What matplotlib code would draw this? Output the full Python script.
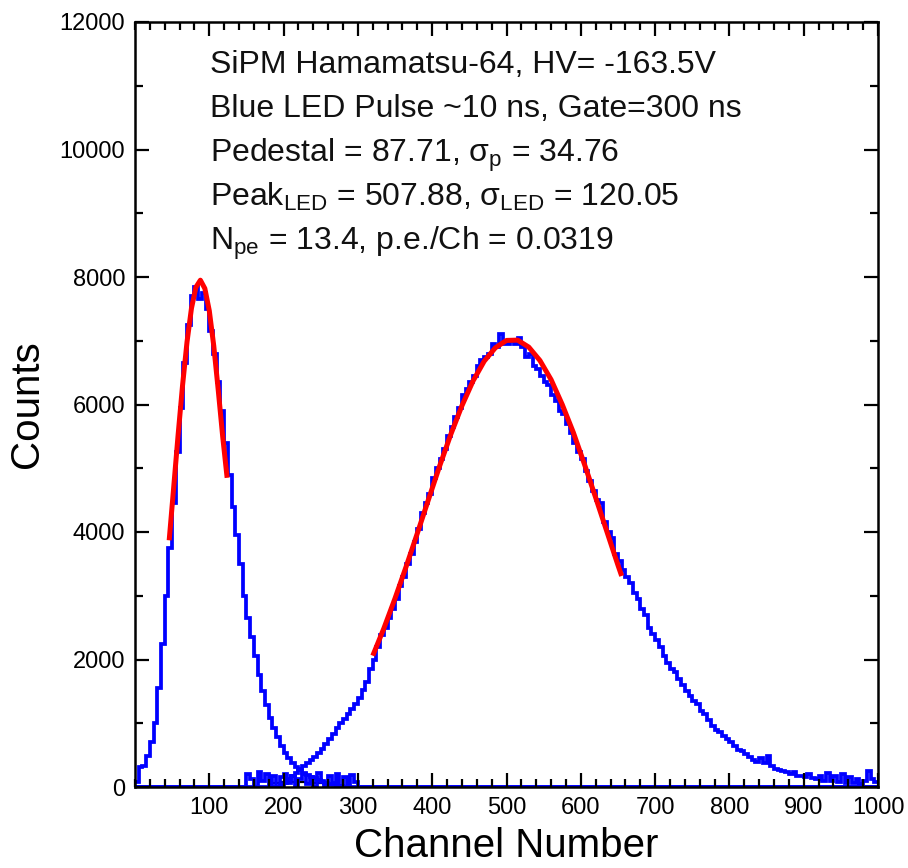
import numpy as np
import matplotlib
matplotlib.use("Agg")
import matplotlib.pyplot as plt
from matplotlib.ticker import MultipleLocator, FixedLocator

plt.rcParams['font.family'] = ['Liberation Sans', 'DejaVu Sans']
plt.rcParams['mathtext.fontset'] = 'custom'
plt.rcParams['mathtext.rm'] = 'Liberation Sans'
plt.rcParams['mathtext.it'] = 'Liberation Sans:italic'
plt.rcParams['mathtext.bf'] = 'Liberation Sans:bold'

# ---------------- data ----------------
bin_width = 5
x_max = 1000

# pedestal histogram, bins starting at channel 0
ped_start = 0
ped_counts = [80, 320, 330, 480, 700, 1000, 1550, 2250, 3000, 3750,
              4450, 5250, 5950, 6650, 7250, 7700, 7850, 7650, 7750, 7500,
              7150, 6800, 6350, 5900, 5400, 4900, 4400, 3950, 3500, 3000,
              2650, 2350, 2050, 1750, 1500, 1280, 1080, 920, 780, 650,
              540, 450, 380, 320, 260, 220, 185, 160, 135, 110,
              85, 65, 45, 30, 18, 8]

# sparse low-count entries between channels 150 and 300
sparse_start = 150
sparse_counts = [200, 120, 0, 230, 90, 200, 30, 180, 0, 150,
                 210, 60, 180, 0, 120, 200, 40, 160, 0, 220,
                 100, 0, 180, 60, 200, 20, 150, 0, 190, 80, 0]

# LED histogram, bins starting at channel 195
led_start = 195
led_counts = [30, 70, 120, 170, 220, 280, 330, 380, 420, 470,
              540, 600, 680, 760, 830, 920, 1000, 1060, 1150, 1220,
              1300, 1400, 1520, 1650, 1850, 2000, 2200, 2380, 2500, 2650,
              2800, 2950, 3150, 3300, 3500, 3650, 3850, 4050, 4300, 4450,
              4600, 4850, 5000, 5150, 5300, 5500, 5650, 5800, 5950, 6150,
              6250, 6350, 6450, 6600, 6700, 6750, 6800, 6950, 6900, 7100,
              6950, 6950, 7000, 6950, 7050, 6900, 6750, 6800, 6600, 6550,
              6450, 6350, 6300, 6150, 6050, 5900, 5850, 5700, 5550, 5400,
              5250, 5150, 4950, 4800, 4650, 4500, 4450, 4150, 4000, 3900,
              3650, 3550, 3400, 3300, 3200, 3050, 2950, 2800, 2700, 2500,
              2400, 2300, 2200, 2050, 1950, 1850, 1800, 1700, 1600, 1500,
              1430, 1350, 1300, 1200, 1150, 1050, 960, 900, 870, 800,
              750, 700, 650, 580, 560, 520, 470, 430, 400, 450,
              380, 480, 330, 290, 270, 250, 240, 200, 230, 180,
              170, 150, 200, 140, 120, 170, 100, 220, 90, 180,
              80, 200, 70, 150, 60, 120, 50, 100, 250, 130, 80]

# small black histogram segment near the baseline
black_start = 180
black_counts = [60, 70, 70, 75, 80, 80, 85, 80, 80, 75, 70, 70, 65, 60, 60]

# Gaussian fit curves (red), sampled points
ped_fit_x = [46, 52, 58, 64, 70, 76, 82, 88, 94, 100, 106, 112, 118, 124]
ped_fit_y = [3870, 4690, 5520, 6300, 6980, 7510, 7840, 7950, 7820, 7470,
             6920, 6230, 5500, 4850]

led_fit_x = [320, 335, 350, 365, 380, 395, 410, 425, 440, 455, 470, 485,
             500, 515, 530, 545, 560, 575, 590, 605, 620, 635, 650, 655]
led_fit_y = [2060, 2490, 2960, 3460, 3980, 4510, 5035, 5530, 5980, 6370,
             6680, 6890, 7005, 7010, 6900, 6690, 6390, 6000, 5560, 5060,
             4540, 4010, 3480, 3310]

x_tick_values = [100, 200, 300, 400, 500, 600, 700, 800, 900, 1000]
y_tick_values = [0, 2000, 4000, 6000, 8000, 10000, 12000]

info_lines = [
    "SiPM Hamamatsu-64, HV= -163.5V",
    "Blue LED Pulse ~10 ns, Gate=300 ns",
    r"Pedestal = 87.71, σ$_{\mathrm{p}}$ = 34.76",
    r"Peak$_{\mathrm{LED}}$ = 507.88, σ$_{\mathrm{LED}}$ = 120.05",
    r"N$_{\mathrm{pe}}$ = 13.4, p.e./Ch = 0.0319",
]

# ---------------- figure ----------------
fig = plt.figure(figsize=(9.08, 8.68), dpi=100)
ax = fig.add_axes([135/908, 1-787/868, 743/908, 765/868])

edges = np.arange(0, x_max + bin_width, bin_width)
nb = len(edges) - 1

def full(start, counts):
    arr = np.zeros(nb)
    i0 = start // bin_width
    arr[i0:i0 + len(counts)] = counts
    return arr

blue = (0, 0, 1)
ax.stairs(full(black_start, black_counts)[36:51], edges[36:52], color='black', lw=1.6, baseline=None)
ax.stairs(full(sparse_start, sparse_counts), edges, color=blue, lw=2.7, baseline=None)
ax.stairs(full(ped_start, ped_counts), edges, color=blue, lw=2.7, baseline=None)
ax.stairs(full(led_start, led_counts), edges, color=blue, lw=2.7, baseline=None)

ax.plot(ped_fit_x, ped_fit_y, color='red', lw=3.6, solid_capstyle='butt')
ax.plot(led_fit_x, led_fit_y, color='red', lw=3.6, solid_capstyle='butt')

ax.set_xlim(0, 1000)
ax.set_ylim(0, 12000)
ax.xaxis.set_major_locator(FixedLocator(x_tick_values))
ax.xaxis.set_minor_locator(MultipleLocator(20))
ax.yaxis.set_major_locator(FixedLocator(y_tick_values))
ax.yaxis.set_minor_locator(MultipleLocator(1000))
ax.tick_params(which='both', direction='in', top=True, right=True,
               width=1.6, colors='black', labelsize=17)
ax.tick_params(which='major', length=10, pad=7)
ax.tick_params(which='minor', length=6)
for s in ax.spines.values():
    s.set_linewidth(1.8)

ax.set_xlabel("Channel Number", fontsize=29, labelpad=6)
ax.set_ylabel("Counts", fontsize=29, labelpad=10)

ys = [0.933, 0.876, 0.817, 0.759, 0.702]
for t, yy in zip(info_lines, ys):
    ax.text(0.101, yy, t, transform=ax.transAxes, fontsize=23,
            va='baseline', ha='left', color='#111111')

fig.savefig("out.png", dpi=100)
